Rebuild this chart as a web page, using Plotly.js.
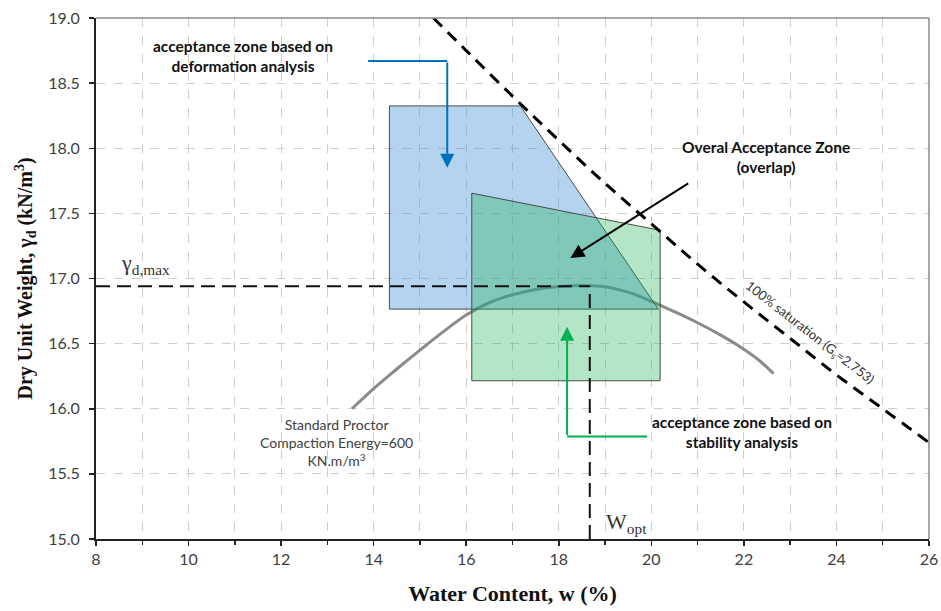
<!DOCTYPE html>
<html><head><meta charset="utf-8">
<script src="https://cdn.plot.ly/plotly-3.0.1.min.js"></script>
<style>body{margin:0;background:#fff}#chart{width:941px;height:611px}</style>
</head><body><div id="chart"></div>
<script>
// ---- data ----
const proctorW  = [13.53, 14.0, 14.5, 15.0, 15.5, 16.0, 16.5, 17.0, 17.5, 18.0, 18.6, 19.0, 19.5, 20.0, 20.5, 21.0, 21.5, 21.9, 22.3, 22.64];
const proctorGd = [16.00, 16.155, 16.305, 16.45, 16.59, 16.72, 16.815, 16.875, 16.915, 16.938, 16.947, 16.937, 16.895, 16.825, 16.745, 16.66, 16.565, 16.48, 16.38, 16.27];
const satW  = [15.29, 16, 17, 18, 19, 20, 21, 22, 23, 24, 25, 26];
const satGd = [19.0, 18.75, 18.40, 18.06, 17.73, 17.42, 17.11, 16.82, 16.54, 16.26, 16.00, 15.74];
const deformZoneW  = [14.34, 14.34, 17.17, 20.15, 14.34];
const deformZoneGd = [16.765, 18.325, 18.325, 16.765, 16.765];
const stabilityZoneW  = [16.12, 16.12, 20.19, 20.19, 16.12];
const stabilityZoneGd = [16.215, 17.655, 17.37, 16.215, 16.215];
const gdMax = 16.94;
const wOpt = 18.67;
const xTickVals = [8, 10, 12, 14, 16, 18, 20, 22, 24, 26];
const yTickVals = [15.0, 15.5, 16.0, 16.5, 17.0, 17.5, 18.0, 18.5, 19.0];
const yTickText = ['15.0', '15.5', '16.0', '16.5', '17.0', '17.5', '18.0', '18.5', '19.0'];
const xRange = [8, 26];
const yRange = [15, 19];

// ---- arrows / labels (data coordinates) ----
const blueArrow  = {x0: 13.88, y0: 18.67, xc: 15.59, tipY: 17.85};
const greenArrow = {x0: 19.91, y0: 15.787, xc: 18.18, tipY: 16.63};
const blackArrow = {x0: 20.83, y0: 17.737, x1: 18.25, y1: 17.157};

const gridCol = '#cfcfcf';
const tickFont = {family: 'Lato, "Open Sans", sans-serif', size: 16, color: '#404040'};
const labelFont = {family: 'Lato, "Open Sans", sans-serif', size: 15.5, color: '#111'};

const traces = [
  {x: proctorW, y: proctorGd, mode: 'lines', line: {color: '#8a8a8a', width: 3, shape: 'spline'}, hoverinfo: 'skip'},
  {x: deformZoneW, y: deformZoneGd, mode: 'lines', fill: 'toself', fillcolor: 'rgba(65,145,212,0.40)',
   line: {color: '#4a4a4a', width: 1}, hoverinfo: 'skip'},
  {x: stabilityZoneW, y: stabilityZoneGd, mode: 'lines', fill: 'toself', fillcolor: 'rgba(25,179,82,0.33)',
   line: {color: '#4a4a4a', width: 1}, hoverinfo: 'skip'},
  {x: satW, y: satGd, mode: 'lines', line: {color: '#000', width: 3, dash: '12px,8px', shape: 'spline'}, hoverinfo: 'skip'},
  {x: [xRange[0], wOpt], y: [gdMax, gdMax], mode: 'lines', line: {color: '#111', width: 2, dash: '14px,7px'}, hoverinfo: 'skip'},
  {x: [wOpt, wOpt], y: [yRange[0], gdMax], mode: 'lines', line: {color: '#111', width: 2, dash: '14px,7px'}, hoverinfo: 'skip'}
];

const layout = {
  width: 941, height: 611,
  margin: {l: 96, r: 12, t: 18, b: 72},
  paper_bgcolor: '#fff', plot_bgcolor: '#fff',
  showlegend: false,
  xaxis: {
    range: xRange, tickvals: xTickVals, showgrid: true, gridcolor: gridCol, griddash: 'dash', gridwidth: 1,
    showline: true, linecolor: '#222', linewidth: 2, zeroline: false,
    ticks: 'outside', ticklen: 5, tickcolor: '#222', tickwidth: 1.5, tickfont: tickFont,
    minor: {dtick: 1, showgrid: true, gridcolor: gridCol, griddash: 'dash', gridwidth: 1, ticks: 'outside', ticklen: 4, tickcolor: '#222'},
    title: {text: '<b>Water Content, w (%)</b>', font: {family: '"Liberation Serif", "DejaVu Serif", serif', size: 22, color: '#111'}, standoff: 18}
  },
  yaxis: {
    range: yRange, tickvals: yTickVals, ticktext: yTickText, showgrid: true, gridcolor: gridCol, griddash: 'dash', gridwidth: 1,
    showline: true, linecolor: '#222', linewidth: 2, zeroline: false,
    ticks: 'outside', ticklen: 5, tickcolor: '#222', tickwidth: 1.5, tickfont: tickFont, ticklabelstandoff: 6,
    title: {text: '<b>Dry Unit Weight, γ<sub>d</sub> (kN/m<sup>3</sup>)</b>', font: {family: '"Liberation Serif", "DejaVu Serif", serif', size: 20, color: '#111'}, standoff: 10}
  },
  shapes: [
    {type: 'line', xref: 'paper', yref: 'paper', x0: 0, x1: 1, y0: 1, y1: 1, line: {color: '#8a8a8a', width: 1.5}},
    {type: 'line', xref: 'paper', yref: 'paper', x0: 1, x1: 1, y0: 0, y1: 1, line: {color: '#8a8a8a', width: 1.5}},
    {type: 'line', xref: 'x', yref: 'y', x0: blueArrow.x0, x1: blueArrow.xc, y0: blueArrow.y0, y1: blueArrow.y0, line: {color: '#0070C0', width: 2}},
    {type: 'line', xref: 'x', yref: 'y', x0: greenArrow.x0, x1: greenArrow.xc, y0: greenArrow.y0, y1: greenArrow.y0, line: {color: '#00B050', width: 2}}
  ],
  annotations: [
    {x: blueArrow.xc, y: blueArrow.tipY, ax: blueArrow.xc, ay: blueArrow.y0, xref: 'x', yref: 'y', axref: 'x', ayref: 'y',
     text: '', showarrow: true, arrowhead: 2, arrowsize: 1.4, arrowwidth: 2, arrowcolor: '#0070C0', standoff: 0},
    {x: greenArrow.xc, y: greenArrow.tipY, ax: greenArrow.xc, ay: greenArrow.y0, xref: 'x', yref: 'y', axref: 'x', ayref: 'y',
     text: '', showarrow: true, arrowhead: 2, arrowsize: 1.4, arrowwidth: 2, arrowcolor: '#00B050', standoff: 0},
    {x: blackArrow.x1, y: blackArrow.y1, ax: blackArrow.x0, ay: blackArrow.y0, xref: 'x', yref: 'y', axref: 'x', ayref: 'y',
     text: '', showarrow: true, arrowhead: 2, arrowsize: 1.4, arrowwidth: 2, arrowcolor: '#000', standoff: 0},
    {x: 11.18, y: 18.71, xref: 'x', yref: 'y', showarrow: false, align: 'center',
     text: '<b>acceptance zone based on<br>deformation analysis</b>', font: labelFont},
    {x: 22.48, y: 17.934, xref: 'x', yref: 'y', showarrow: false, align: 'center',
     text: '<b>Overal Acceptance Zone<br>(overlap)</b>', font: labelFont},
    {x: 21.96, y: 15.82, xref: 'x', yref: 'y', showarrow: false, align: 'center',
     text: '<b>acceptance zone based on<br>stability analysis</b>', font: labelFont},
    {x: 13.19, y: 15.74, xref: 'x', yref: 'y', showarrow: false, align: 'center',
     text: 'Standard Proctor<br>Compaction Energy=600<br>KN.m/m<sup>3</sup>', font: {family: 'Lato, "Open Sans", sans-serif', size: 14, color: '#404040'}},
    {x: 23.43, y: 16.585, xref: 'x', yref: 'y', showarrow: false, textangle: 37.8,
     text: '100% saturation (G<sub>s</sub>=2.753)', font: {family: 'Lato, "Open Sans", sans-serif', size: 13, color: '#333'}},
    {x: 9.06, y: 17.11, xref: 'x', yref: 'y', showarrow: false,
     text: 'γ<sub>d,max</sub>', font: {family: '"Liberation Serif", "DejaVu Serif", serif', size: 22, color: '#333'}},
    {x: 19.46, y: 15.12, xref: 'x', yref: 'y', showarrow: false,
     text: 'W<sub>opt</sub>', font: {family: '"Liberation Serif", "DejaVu Serif", serif', size: 22, color: '#333'}}
  ]
};

Plotly.newPlot('chart', traces, layout, {displayModeBar: false, staticPlot: true});
</script>
</body></html>
